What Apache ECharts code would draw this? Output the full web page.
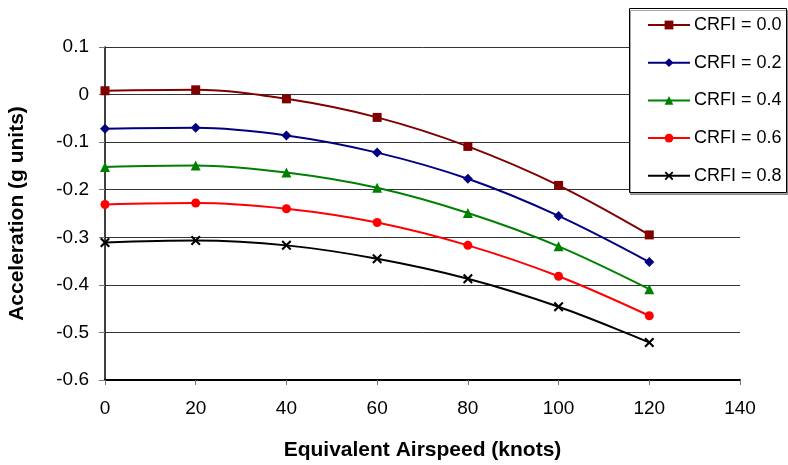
<!DOCTYPE html>
<html><head><meta charset="utf-8">
<script src="https://cdn.jsdelivr.net/npm/echarts@6/dist/echarts.min.js"></script>
<style>html,body{margin:0;padding:0;background:#fff}#c{width:788px;height:465px}</style>
</head><body><div id="c"></div>
<script>
const xValues = [0, 20, 40, 60, 80, 100, 120];
const crfi00 = [0.008, 0.010, -0.009, -0.048, -0.109, -0.191, -0.295];
const crfi02 = [-0.072, -0.070, -0.086, -0.122, -0.177, -0.255, -0.352];
const crfi04 = [-0.152, -0.149, -0.164, -0.196, -0.249, -0.319, -0.409];
const crfi06 = [-0.231, -0.228, -0.240, -0.269, -0.317, -0.382, -0.465];
const crfi08 = [-0.311, -0.307, -0.317, -0.345, -0.387, -0.446, -0.521];
const seriesNames = ['CRFI = 0.0', 'CRFI = 0.2', 'CRFI = 0.4', 'CRFI = 0.6', 'CRFI = 0.8'];
const seriesData = [crfi00, crfi02, crfi04, crfi06, crfi08];
const colors = ['#800000', '#000080', '#008000', '#ff0000', '#000000'];
const crossPath = 'path://M0,1.5L1.5,0L5,3.5L8.5,0L10,1.5L6.5,5L10,8.5L8.5,10L5,6.5L1.5,10L0,8.5L3.5,5Z';
const symbols = ['rect', 'diamond', 'triangle', 'circle', crossPath];
const symbolSizes = [9, 10, 10, 9, 10];

const chart = echarts.init(document.getElementById('c'));
const font = 'Liberation Sans, Arial, sans-serif';
chart.setOption({
  animation: false,
  textStyle: { fontFamily: font },
  grid: { left: 105, right: 48, top: 47, bottom: 85, containLabel: false, outerBoundsMode: 'none' },
  graphic: [{
    type: 'rect', z: 10, zlevel: 0,
    shape: { x: 629.5, y: 8.5, width: 157, height: 184 },
    style: { fill: '#fff', stroke: '#000', lineWidth: 1, shadowColor: 'rgba(0,0,0,0.35)', shadowOffsetX: 1, shadowOffsetY: 2, shadowBlur: 0 }
  }],
  legend: {
    z: 20,
    orient: 'vertical',
    left: 647, top: 16,
    padding: 0,
    itemWidth: 42, itemHeight: 11,
    itemGap: 19.7,
    textStyle: { fontSize: 18, color: '#000', fontFamily: font, padding: [0,0,0,-1] },
    data: seriesNames
  },
  xAxis: {
    type: 'value', min: 0, max: 140, interval: 20,
    name: 'Equivalent Airspeed (knots)', nameLocation: 'middle', nameGap: 60,
    nameTextStyle: { fontSize: 21, fontWeight: 'bold', color: '#000' },
    axisLine: { show: true, onZero: false, lineStyle: { color: '#000', width: 2 } },
    axisTick: { show: true, length: 5, lineStyle: { color: '#777' } },
    axisLabel: { fontSize: 19, color: '#000', margin: 19 },
    splitLine: { show: false }
  },
  yAxis: {
    type: 'value', min: -0.6, max: 0.1, interval: 0.1,
    name: 'Acceleration (g units)', nameLocation: 'middle', nameGap: 77,
    nameTextStyle: { fontSize: 21, fontWeight: 'bold', color: '#000' },
    axisLine: { show: true, onZero: false, lineStyle: { color: '#000', width: 1.5 } },
    axisTick: { show: true, length: 6, lineStyle: { color: '#777' } },
    axisLabel: { fontSize: 19, color: '#000', margin: 16, formatter: v => (Math.round(v*10)/10).toString() },
    splitLine: { show: true, lineStyle: { color: '#333', width: 1 } }
  },
  series: seriesNames.map((n, i) => ({
    name: n, type: 'line', smooth: 0.35,
    data: xValues.map((x, j) => [x, seriesData[i][j]]),
    symbol: symbols[i], symbolSize: symbolSizes[i],
    showAllSymbol: true,
    lineStyle: { color: colors[i], width: 2 },
    itemStyle: { color: colors[i] },
    z: 3
  }))
});
</script></body></html>
